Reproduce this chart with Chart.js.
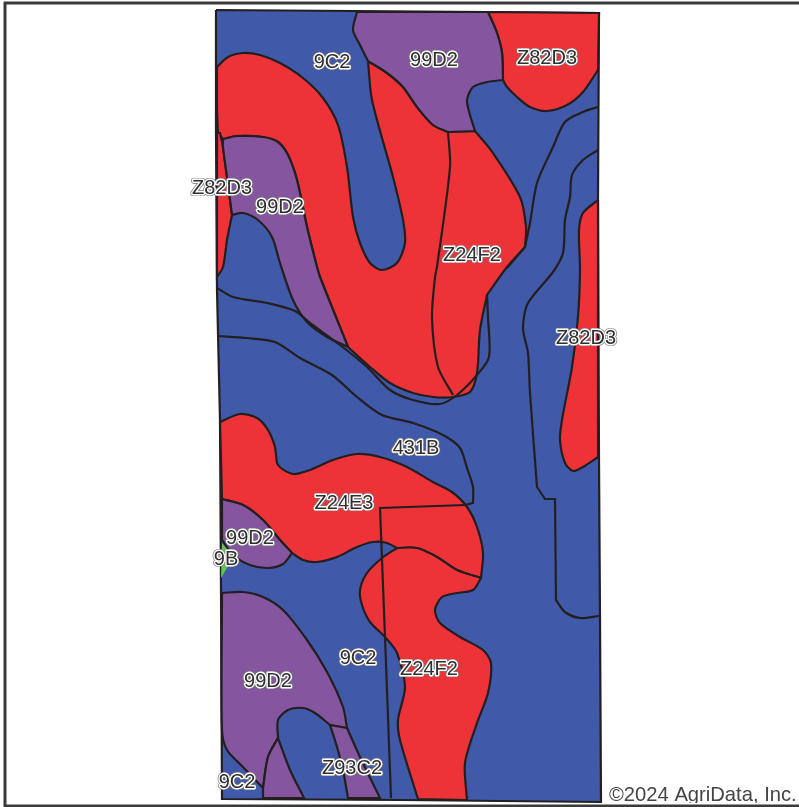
<!DOCTYPE html>
<html>
<head>
<meta charset="utf-8">
<title>Soils map</title>
<script src="https://cdn.jsdelivr.net/npm/chart.js@4"></script>
<style>
html, body { margin: 0; padding: 0; background: #fff; }
#wrap { width: 799px; height: 807px; }
</style>
</head>
<body>
<div id="wrap"><canvas id="mapa"></canvas></div>
<script>
// soil units (x, y as seen on the sheet)
const fieldBlue = [[216,10],[355,11],[488,12],[599,13],[598,200],[599,460],[600,618],[601,802],[400,800],[222,799],[221,590],[220,420],[217,290],[216,130],[216,10]];

const redTopRight = [[488,12],[599,13],[598,70],[583,92],[567,105],[547,111],[530,107],[517,97],[507,87],[503,80],[502,53],[497,33],[488,12]];
const purpleTop = [[357,12],[488,12],[497,33],[502,53],[503,80],[487,82],[473,87],[467,100],[470,115],[475,131],[448,132],[433,125],[417,107],[403,87],[387,73],[368,61],[360,45],[353,30],[357,12]];
const redBig = [[217,67],[228,57],[243,53],[260,55],[280,63],[303,78],[323,98],[338,125],[347,167],[353,217],[360,243],[370,263],[382,270],[397,263],[405,243],[403,220],[393,177],[372,100],[368,61],[387,73],[403,87],[417,107],[433,125],[448,132],[475,131],[493,153],[520,197],[526,227],[525,247],[507,267],[487,295],[480,330],[477,373],[470,392],[453,397],[433,397],[413,393],[390,383],[370,367],[348,347],[320,277],[317,267],[307,227],[297,180],[288,155],[278,142],[263,137],[237,136],[223,139],[218,133],[217,110],[217,67]];
const redSliver = [[217,133],[220,133],[223,147],[227,177],[232,215],[227,240],[223,267],[217,277],[217,133]];
const purpleLeft = [[223,139],[237,136],[263,137],[278,142],[288,155],[297,180],[307,227],[317,267],[320,277],[348,347],[327,337],[307,322],[293,300],[280,263],[272,237],[258,220],[243,213],[232,215],[227,177],[223,147],[223,139]];
const redRight = [[598,200],[583,213],[579,230],[580,270],[578,317],[572,367],[562,420],[560,440],[565,463],[573,471],[583,467],[598,457],[598,200]];
const redMiddle = [[220,422],[240,414],[257,418],[268,430],[275,447],[278,465],[293,474],[310,470],[333,460],[357,454],[380,457],[407,467],[433,482],[452,492],[467,507],[477,527],[483,553],[481,578],[457,570],[437,557],[417,548],[397,548],[387,543],[373,542],[357,547],[337,557],[317,562],[303,560],[292,553],[280,540],[263,520],[243,505],[222,499],[220,422]];
const purpleMiddle = [[222,499],[243,505],[263,520],[280,540],[292,553],[283,564],[268,568],[250,565],[233,555],[222,540],[222,499]];
const green9B = [[222,543],[229,552],[227,568],[221,578],[222,543]];
const redLower = [[481,578],[473,590],[457,593],[442,597],[435,610],[440,623],[460,637],[483,650],[491,663],[488,693],[477,723],[465,763],[467,800],[418,799],[400,740],[398,720],[405,687],[397,653],[385,637],[370,622],[362,605],[360,590],[367,573],[382,558],[397,548],[417,548],[437,557],[457,570],[481,578]];
const purpleLower = [[222,593],[243,592],[263,597],[283,610],[307,640],[327,672],[343,707],[347,728],[330,725],[315,713],[303,708],[288,710],[278,720],[278,738],[268,757],[263,788],[243,767],[227,750],[222,730],[222,593]];
const purpleBottom = [[278,738],[290,770],[304,798],[263,798],[263,788],[268,757],[278,738]];
const purpleZ93 = [[330,725],[347,728],[360,757],[380,798],[348,798],[343,770],[337,747],[330,725]];

// boundaries that are only a line, no fill of their own
const lineUnderRed = [[217,288],[233,297],[267,303],[295,311],[310,323],[340,345],[367,367],[390,390],[413,400],[440,404],[457,395],[477,375],[489,357],[488,317],[487,295]];
const lineInner = [[448,132],[450,167],[437,267],[435,277],[432,318],[438,367],[453,395]];
const lineEast1 = [[598,107],[583,112],[565,122],[553,147],[537,183],[530,223],[525,247],[507,268]];
const lineEast2 = [[598,150],[583,160],[572,175],[570,197],[565,220],[563,253],[553,272],[528,303],[523,328],[528,353],[530,393],[537,487],[545,499],[555,499],[556,600],[565,612],[580,618],[599,616]];
const line431B = [[218,336],[247,338],[275,342],[300,358],[332,375],[357,397],[382,415],[413,423],[443,435],[460,448],[467,468],[473,487],[473,503],[465,505]];
const lineProperty = [[465,505],[380,508],[385,637],[391,798]];

const pageFrame = [[799,3],[5,3],[5,806],[799,806]];

// places where a boundary turns sharply instead of curving
const sharpCorners = [[488,12],[599,13],[598,70],[503,80],[357,12],[475,131],[448,132],[368,61],[217,67],[525,247],[487,295],[348,347],[223,139],[218,133],[217,133],[220,133],[217,277],[232,215],[598,200],[598,457],[220,422],[481,578],[222,499],[292,553],[222,540],[467,800],[418,799],[397,548],[222,593],[347,728],[278,738],[263,788],[304,798],[263,798],[330,725],[380,798],[348,798],[537,487],[545,499],[555,499],[556,600],[473,503],[465,505]];

const labelNames = ['9C2','99D2','Z82D3','Z82D3','99D2','Z24F2','Z82D3','431B','Z24E3','99D2','9B','9C2','Z24F2','99D2','Z93C2','9C2'];
const labelX = [332,434,547,222,280,472,586,416,344,250,226,358,429,268,352,237];
const labelY = [62,60,58,188,207,255,338,448,503,538,559,658,669,681,768,782];

const AZUL = '#4059a8';
const VERMELHO = '#ee3338';
const ROXO = '#8655a0';
const VERDE = '#5fc84f';
const CONTORNO = '#231f20';

// Monta um dataset de poligono preenchido; ponto de canto entra duas vezes para nao arredondar
function area(pontos, cor, curva = 0.28) {
    const ehCanto = p => sharpCorners.some(c => c[0] === p[0] && c[1] === p[1]);
    const dados = pontos.flatMap(p => ehCanto(p) ? [p, p] : [p]);
    return {
        data: dados.map(p => ({ x: p[0], y: p[1] })),
        showLine: true,
        fill: cor ? 'shape' : false,
        backgroundColor: cor || 'transparent',
        borderColor: CONTORNO,
        borderWidth: 2.2,
        pointRadius: 0,
        pointHoverRadius: 0,
        tension: curva,
        clip: false
    };
}

// Credito fica por baixo da moldura e cortado na base, como no original
const credito = {
    id: 'credito',
    beforeDatasetsDraw(chart) {
        const { ctx, scales } = chart;
        ctx.save();
        ctx.beginPath();
        ctx.rect(600, 770, 199, 33);
        ctx.clip();
        ctx.font = '20.2px "Liberation Sans", Arial, sans-serif';
        ctx.textAlign = 'left';
        ctx.textBaseline = 'alphabetic';
        ctx.fillStyle = '#444444';
        ctx.fillText('©2024 AgriData, Inc.', scales.x.getPixelForValue(609), scales.y.getPixelForValue(801));
        ctx.restore();
    }
};

// Rotulos das unidades de solo
const rotulos = {
    id: 'rotulos',
    afterDatasetsDraw(chart) {
        const { ctx, scales } = chart;
        ctx.save();
        ctx.font = '20px "Liberation Sans", Arial, sans-serif';
        ctx.textAlign = 'center';
        ctx.textBaseline = 'middle';
        ctx.lineJoin = 'round';
        labelNames.forEach((nome, i) => {
            const x = scales.x.getPixelForValue(labelX[i]);
            const y = scales.y.getPixelForValue(labelY[i]);
            ctx.strokeStyle = '#777777';
            ctx.lineWidth = 4.2;
            ctx.strokeText(nome, x, y);
            ctx.strokeStyle = '#ffffff';
            ctx.lineWidth = 2.8;
            ctx.strokeText(nome, x, y);
            ctx.fillStyle = '#2f2f2f';
            ctx.fillText(nome, x, y);
        });
        ctx.restore();
    }
};

new Chart(document.getElementById('mapa'), {
    type: 'scatter',
    data: {
        datasets: [
            // chart.js desenha o ultimo dataset primeiro
            area(lineProperty, null, 0),
            area(line431B, null),
            area(lineEast2, null),
            area(lineEast1, null),
            area(lineInner, null),
            area(lineUnderRed, null),
            area(purpleZ93, ROXO),
            area(purpleBottom, ROXO),
            area(purpleLower, ROXO),
            { ...area(green9B, VERDE, 0), borderWidth: 0 },
            area(purpleMiddle, ROXO),
            area(redLower, VERMELHO),
            area(redMiddle, VERMELHO),
            area(redRight, VERMELHO),
            area(purpleLeft, ROXO),
            area(redSliver, VERMELHO),
            area(purpleTop, ROXO),
            area(redBig, VERMELHO),
            area(redTopRight, VERMELHO),
            area(fieldBlue, AZUL, 0),
            { ...area(pageFrame, null, 0), borderColor: '#3a3a3a', borderWidth: 3 }
        ]
    },
    options: {
        responsive: true,
        maintainAspectRatio: false,
        animation: false,
        layout: { padding: 0 },
        plugins: { legend: { display: false }, tooltip: { enabled: false } },
        scales: {
            x: { type: 'linear', min: 0, max: 799, display: false },
            y: { type: 'linear', min: 0, max: 807, reverse: true, display: false }
        }
    },
    plugins: [credito, rotulos]
});
</script>
</body>
</html>
